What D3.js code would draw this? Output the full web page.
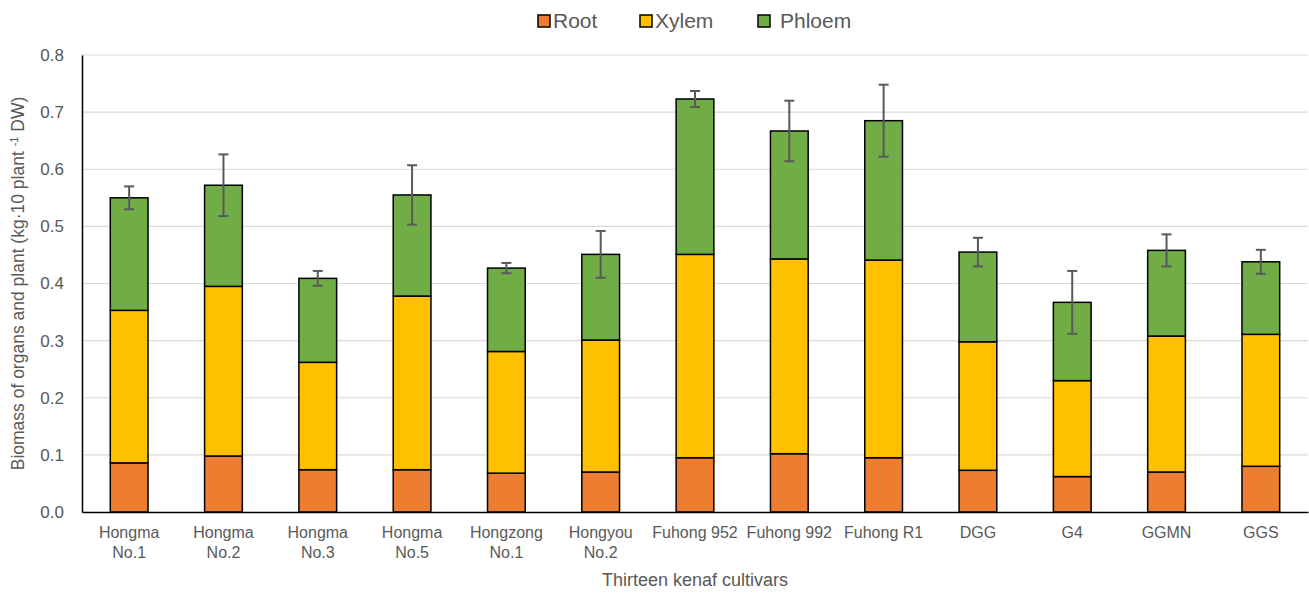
<!DOCTYPE html>
<html>
<head>
<meta charset="utf-8">
<script src="https://cdn.jsdelivr.net/npm/d3@7"></script>
<style>
  body { margin: 0; background: #fff; }
  text { font-family: "Liberation Sans", Arial, sans-serif; fill: #595959; }
</style>
</head>
<body>
<svg id="chart" width="1309" height="593"></svg>
<script>
// cultivar names (line breaks where the original wraps)
const cultivars = ["Hongma\nNo.1", "Hongma\nNo.2", "Hongma\nNo.3", "Hongma\nNo.5", "Hongzong\nNo.1",
  "Hongyou\nNo.2", "Fuhong 952", "Fuhong 992", "Fuhong R1", "DGG", "G4", "GGMN", "GGS"];
const root   = [0.086, 0.098, 0.074, 0.074, 0.068, 0.070, 0.095, 0.102, 0.095, 0.073, 0.062, 0.070, 0.080];
const xylem  = [0.267, 0.297, 0.188, 0.304, 0.213, 0.231, 0.356, 0.341, 0.346, 0.225, 0.168, 0.238, 0.231];
const phloem = [0.197, 0.177, 0.147, 0.177, 0.146, 0.150, 0.272, 0.224, 0.244, 0.157, 0.137, 0.150, 0.127];
const totalErr = [0.020, 0.054, 0.013, 0.052, 0.009, 0.041, 0.014, 0.053, 0.063, 0.025, 0.055, 0.028, 0.021];
const yTicks = [0, 0.1, 0.2, 0.3, 0.4, 0.5, 0.6, 0.7, 0.8];
const seriesNames = ["Root", "Xylem", "Phloem"];
const seriesColors = ["#ED7D31", "#FFC000", "#70AD47"];

const svg = d3.select("#chart");
const margin = { left: 82, right: 1, top: 55, bottom: 81 };
const W = 1309, H = 593;

const rows = cultivars.map((c, i) => ({ name: c, Root: root[i], Xylem: xylem[i], Phloem: phloem[i], err: totalErr[i] }));
const stacked = d3.stack().keys(seriesNames)(rows);

const x = d3.scaleBand().domain(cultivars)
  .range([margin.left, W - margin.right]).paddingInner(0.6).paddingOuter(0.3);
const y = d3.scaleLinear().domain([0, 0.8]).range([H - margin.bottom, margin.top]);
const color = d3.scaleOrdinal().domain(seriesNames).range(seriesColors);

// gridlines
svg.append("g").selectAll("line").data(yTicks.slice(1)).join("line")
  .attr("x1", margin.left).attr("x2", W - margin.right)
  .attr("y1", d => y(d)).attr("y2", d => y(d))
  .attr("stroke", "#d9d9d9").attr("stroke-width", 1.2);

// y axis
const yAxis = svg.append("g").attr("transform", `translate(${margin.left},0)`)
  .call(d3.axisLeft(y).tickValues(yTicks).tickFormat(d3.format(".1f")).tickSize(0).tickPadding(18));
yAxis.select(".domain").attr("stroke", "#000").attr("stroke-width", 1.5);
yAxis.selectAll("text").style("font-size", "17px").attr("fill", "#595959");

// bars
svg.append("g").selectAll("g").data(stacked).join("g")
  .attr("fill", d => color(d.key))
  .selectAll("rect").data(d => d).join("rect")
  .attr("x", d => x(d.data.name))
  .attr("width", x.bandwidth())
  .attr("y", d => y(d[1]))
  .attr("height", d => y(d[0]) - y(d[1]))
  .attr("stroke", "#000").attr("stroke-width", 1.5);

// error bars on the total
const last = stacked[stacked.length - 1];
const eb = svg.append("g").attr("stroke", "#595959").attr("stroke-width", 2);
last.forEach(d => {
  const cx = x(d.data.name) + x.bandwidth() / 2;
  const top = y(d[1] + d.data.err), bot = y(d[1] - d.data.err);
  eb.append("line").attr("x1", cx).attr("x2", cx).attr("y1", top).attr("y2", bot);
  eb.append("line").attr("x1", cx - 5).attr("x2", cx + 5).attr("y1", top).attr("y2", top);
  eb.append("line").attr("x1", cx - 5).attr("x2", cx + 5).attr("y1", bot).attr("y2", bot);
});

// x axis
const xAxis = svg.append("g").attr("transform", `translate(0,${H - margin.bottom})`)
  .call(d3.axisBottom(x).tickSize(0).tickFormat(""));
xAxis.select(".domain").attr("stroke", "#000").attr("stroke-width", 1.5);
xAxis.selectAll(".tick").each(function (d) {
  const t = d3.select(this).append("text").attr("text-anchor", "middle")
    .style("font-size", "16px").attr("fill", "#595959");
  d.split("\n").forEach((line, i) => {
    t.append("tspan").attr("x", 0).attr("y", 26 + i * 20).text(line);
  });
});

// axis titles
svg.append("text").attr("x", (margin.left + W - margin.right) / 2).attr("y", 586)
  .attr("text-anchor", "middle").style("font-size", "18px").text("Thirteen kenaf cultivars");

const yt = svg.append("text")
  .attr("transform", `translate(24,${(y(0) + y(0.8)) / 2}) rotate(-90)`)
  .attr("text-anchor", "middle").style("font-size", "17.5px");
yt.append("tspan").text("Biomass of organs and plant (kg·10 plant ");
yt.append("tspan").attr("baseline-shift", "super").style("font-size", "11px").text("-1");
yt.append("tspan").text(" DW)");

// legend
const legendX = [538, 640, 758];
const lg = svg.append("g");
seriesNames.forEach((s, i) => {
  lg.append("rect").attr("x", legendX[i]).attr("y", 15).attr("width", 12).attr("height", 12)
    .attr("fill", color(s)).attr("stroke", "#000").attr("stroke-width", 1.5);
  lg.append("text").attr("x", legendX[i] + (i === 2 ? 22 : 15)).attr("y", 28)
    .style("font-size", "21px").text(s);
});
</script>
</body>
</html>
